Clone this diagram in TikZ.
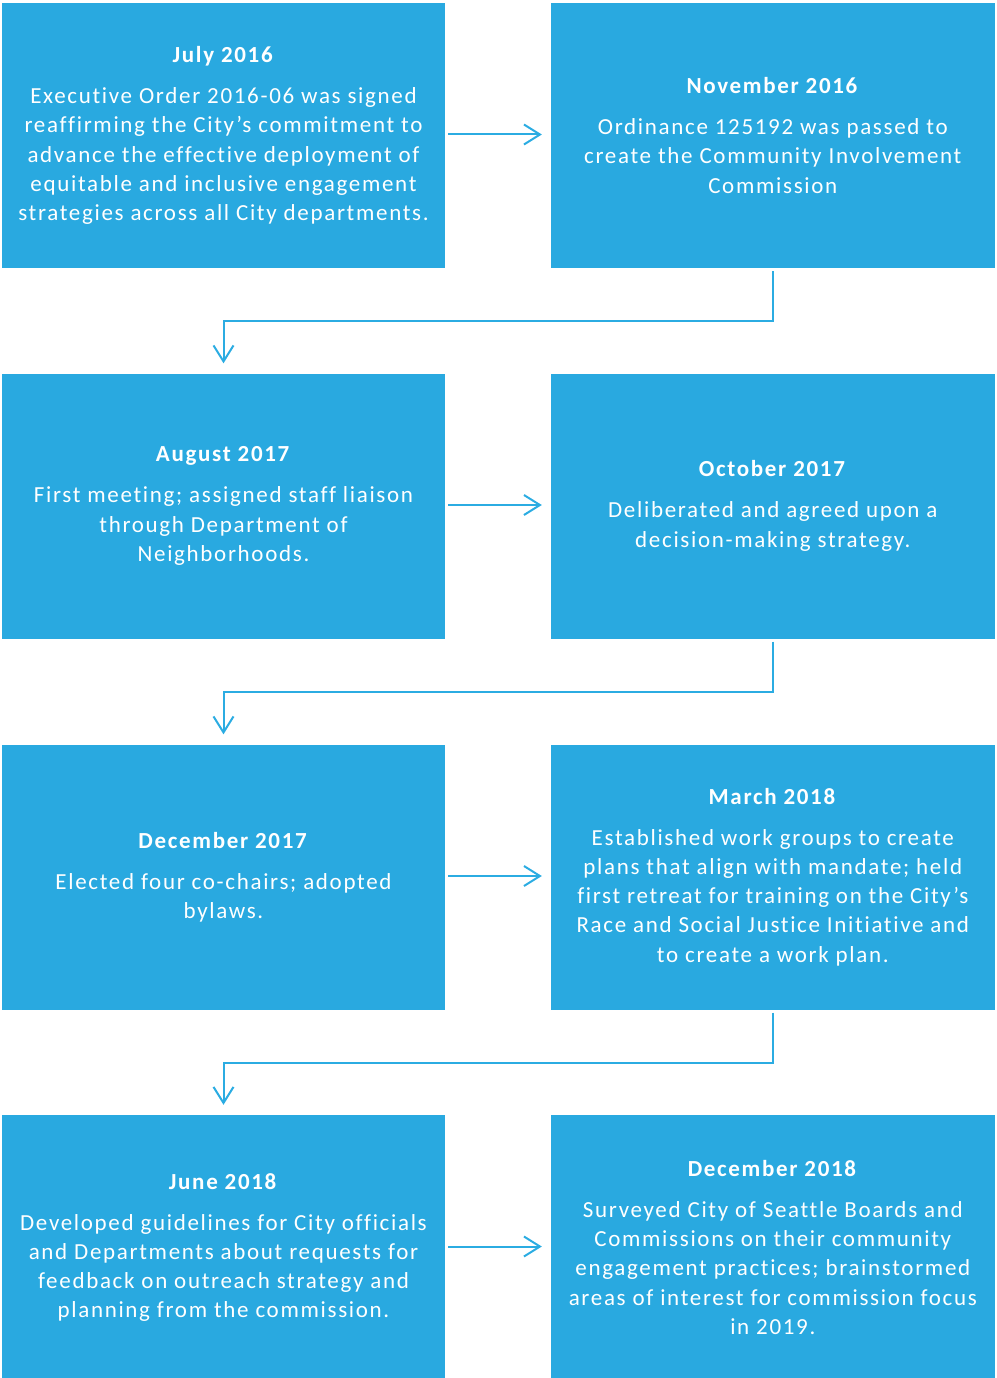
\documentclass[tikz,border=0pt]{standalone}
\usepackage{fontspec}
\setmainfont{Carlito}[LetterSpace=7.3, Ligatures=NoCommon]
\usetikzlibrary{arrows.meta}
\definecolor{boxblue}{HTML}{29A9E0}
\definecolor{lineblue}{HTML}{2BACE2}
\tikzset{
  stage/.style={rectangle, fill=boxblue, text=white, minimum width=443.5pt, minimum height=265pt,
    inner sep=0pt, align=center, font=\fontsize{23}{29.2}\selectfont},
  arr/.style={draw=lineblue, line width=2pt, -{Straight Barb[length=16pt,width=20pt,line width=2pt]}}
}
\newcommand{\stitle}[1]{\textbf{#1}\\[11.8pt]}
\begin{document}
\begin{tikzpicture}[x=1pt,y=-1pt]
\useasboundingbox (0,0) rectangle (996,1378);
\node[stage] (b1) at (223.5,135.5) {\stitle{July 2016}Executive Order 2016-06 was signed\\reaffirming the City's commitment to\\advance the effective deployment of\\equitable and inclusive engagement\\strategies across all City departments.};
\node[stage] (b2) at (772.8,135.5) {\stitle{November 2016}Ordinance 125192 was passed to\\create the Community Involvement\\Commission};
\node[stage] (b3) at (223.5,506) {\stitle{August 2017}First meeting; assigned staff liaison\\through Department of\\Neighborhoods.};
\node[stage] (b4) at (772.8,506) {\stitle{October 2017}Deliberated and agreed upon a\\decision-making strategy.};
\node[stage] (b5) at (223.5,877) {\stitle{December 2017}Elected four co-chairs; adopted\\bylaws.};
\node[stage] (b6) at (772.8,877) {\stitle{March 2018}Established work groups to create\\plans that align with mandate; held\\first retreat for training on the City’s\\Race and Social Justice Initiative and\\to create a work plan.};
\node[stage] (b7) at (223.5,1247.5) {\stitle{June 2018}Developed guidelines for City officials\\and Departments about requests for\\feedback on outreach strategy and\\planning from the commission.};
\node[stage] (b8) at (772.8,1247.5) {\stitle{December 2018}Surveyed City of Seattle Boards and\\Commissions on their community\\engagement practices; brainstormed\\areas of interest for commission focus\\in 2019.};
\draw[arr, shorten <=3pt, shorten >=9pt] ([yshift=1pt]b1.east) -- ([yshift=1pt]b2.west);
\draw[arr, shorten <=3pt, shorten >=9pt] ([yshift=1pt]b3.east) -- ([yshift=1pt]b4.west);
\draw[arr, shorten <=3pt, shorten >=9pt] ([yshift=1pt]b5.east) -- ([yshift=1pt]b6.west);
\draw[arr, shorten <=3pt, shorten >=9pt] ([yshift=1pt]b7.east) -- ([yshift=1pt]b8.west);
\draw[arr] ([yshift=-3pt]b2.south) -- ++(0,50) -| ([yshift=10pt]b3.north);
\draw[arr] ([yshift=-3pt]b4.south) -- ++(0,50) -| ([yshift=10pt]b5.north);
\draw[arr] ([yshift=-3pt]b6.south) -- ++(0,50) -| ([yshift=10pt]b7.north);
\end{tikzpicture}
\end{document}
